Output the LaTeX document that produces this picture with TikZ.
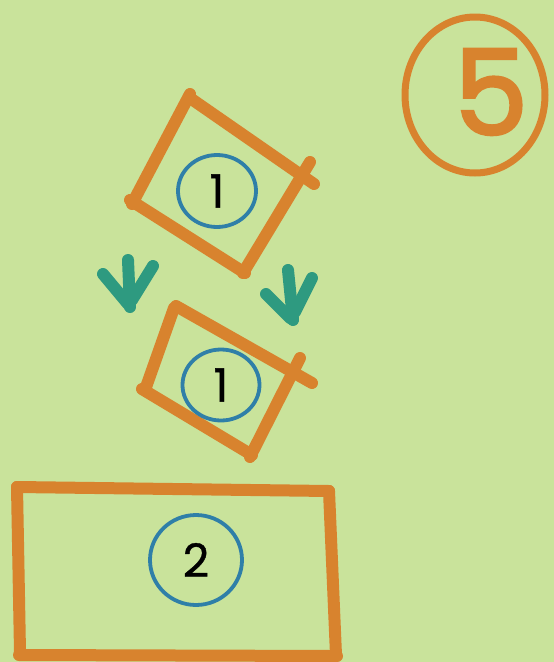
\documentclass[tikz,border=0pt]{standalone}
\usepackage{fontspec}
\setmainfont{Poppins}
\newfontfamily\fivefont[FakeBold=2.5]{Poppins}
\newfontfamily\tagfont[FakeBold=0.8]{Poppins}
\usetikzlibrary{shapes.geometric}
\definecolor{bg}{HTML}{C9E39B}
\definecolor{marker}{HTML}{D8832E}
\definecolor{teal}{HTML}{2E9A80}
\definecolor{ring}{HTML}{2F7FA8}
\tikzset{
  stroke/.style={draw=marker, line width=12pt, line cap=round},
  arrowstroke/.style={draw=teal, line width=12pt, line cap=round},
  tag/.style={draw=ring, line width=3.8pt, ellipse, inner sep=0pt, font=\tagfont\fontsize{46}{46}\selectfont, text=black},
}
\begin{document}
\begin{tikzpicture}[x=1pt,y=-1pt]
\fill[bg] (0,0) rectangle (554,662);
\useasboundingbox (0,0) rectangle (554,662);
% top square
\draw[stroke] (190,98) -- (314,184);
\draw[stroke] (190,94) -- (132,204);
\draw[stroke] (130,200) -- (245,273);
\draw[stroke] (310,162) -- (243,273);
\node[tag, minimum width=78pt, minimum height=72pt] (one) at (217,191) {1};
% arrows
\draw[arrowstroke] (128,260) -- (130,307);
\draw[arrowstroke] (103,274) -- (128,304);
\draw[arrowstroke] (153,266) -- (132,300);
\draw[arrowstroke] (288,270) -- (293,320);
\draw[arrowstroke] (266,294) -- (290,318);
\draw[arrowstroke] (312,278) -- (295,312);
% second square
\draw[stroke] (176,306) -- (312,383);
\draw[stroke] (174,308) -- (145,390);
\draw[stroke] (142,389) -- (252,455);
\draw[stroke] (300,358) -- (250,457);
\node[tag, minimum width=77pt, minimum height=71pt] (oneb) at (221,385) {1};
% big rectangle
\draw[stroke] (17,487) -- (329,491);
\draw[stroke] (329,491) -- (336,655);
\draw[stroke] (19,655) -- (337,656);
\draw[stroke] (17,487) -- (20,652);
\node[tag, minimum width=92pt, minimum height=90pt] (two) at (196,560) {2};
% circled 5
\draw[draw=marker, line width=7pt] (475,95) ellipse [x radius=70pt, y radius=78pt];
\node[text=marker, font=\fivefont\fontsize{118}{118}\selectfont] (five) at (491,92) {5};
\end{tikzpicture}
\end{document}
